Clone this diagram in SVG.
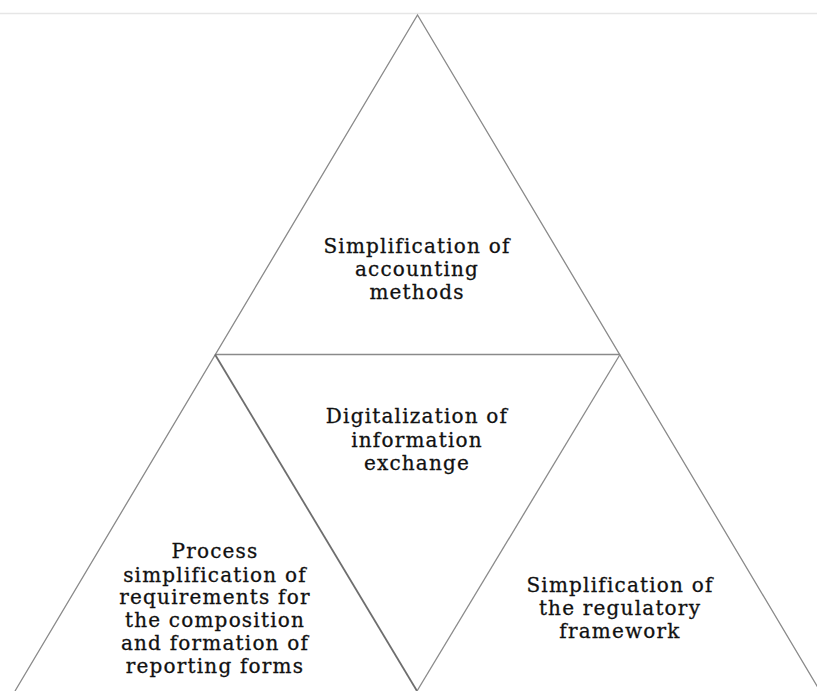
<svg xmlns="http://www.w3.org/2000/svg" width="817" height="691" viewBox="0 0 817 691">
<style>
.edge{fill:none;stroke:#8a8a8a;stroke-width:1.3}
.dark{stroke:#6e6e6e;stroke-width:1.8}
.t{font-family:"DejaVu Serif","Liberation Serif",serif;font-size:20px;letter-spacing:1.2px;fill:#111;stroke:#111;stroke-width:0.3;text-anchor:middle}
</style>
<rect width="817" height="691" fill="#fff"/>
<line x1="0" y1="13.5" x2="817" y2="13.5" stroke="#e6e6e6" stroke-width="1.5"/>
<g id="connectors">
<polyline class="edge" points="15,691 417.5,15 820,691"/>
<line class="edge" x1="215" y1="354.5" x2="620" y2="354.5"/>
<line class="edge dark" x1="215" y1="354.5" x2="417" y2="691"/>
<line class="edge" x1="620" y1="354.5" x2="417" y2="691"/>
</g>
<g id="top">
<text class="t" x="417" y="253">Simplification of</text>
<text class="t" x="417" y="276">accounting</text>
<text class="t" x="417" y="299">methods</text>
</g>
<g id="middle">
<text class="t" x="417" y="423">Digitalization of</text>
<text class="t" x="417" y="447">information</text>
<text class="t" x="417" y="470">exchange</text>
</g>
<g id="left">
<text class="t" x="215" y="558">Process</text>
<text class="t" x="215" y="582">simplification of</text>
<text class="t" x="215" y="604">requirements for</text>
<text class="t" x="215" y="627">the composition</text>
<text class="t" x="215" y="650">and formation of</text>
<text class="t" x="215" y="673">reporting forms</text>
</g>
<g id="right">
<text class="t" x="620" y="592">Simplification of</text>
<text class="t" x="620" y="615">the regulatory</text>
<text class="t" x="620" y="638">framework</text>
</g>
</svg>
